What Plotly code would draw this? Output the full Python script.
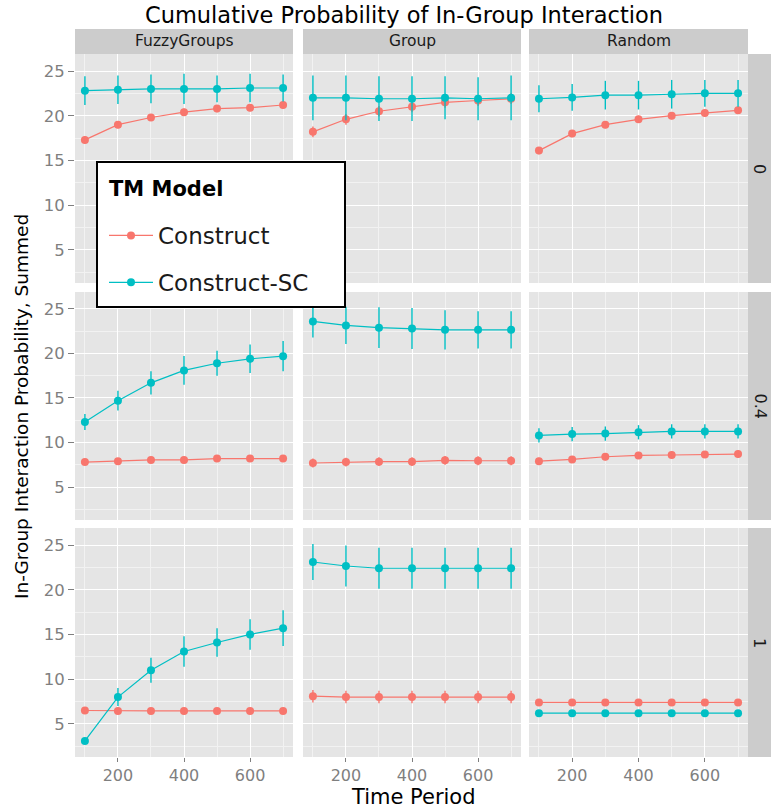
import plotly.graph_objects as go

# ---------------- data ----------------
TIME = [100, 200, 300, 400, 500, 600, 700]
COL_FACETS = ["FuzzyGroups", "Group", "Random"]
ROW_FACETS = ["0", "0.4", "1"]
SERIES = ["Construct", "Construct-SC"]
X_TICKS = [200, 400, 600]
Y_TICKS = [5, 10, 15, 20, 25]

# row facet "0"
fuzzy_0_construct = [17.3, 19.0, 19.8, 20.4, 20.8, 20.9, 21.2]
fuzzy_0_construct_err = [0.4, 0.4, 0.4, 0.4, 0.4, 0.4, 0.4]
fuzzy_0_sc = [22.8, 22.9, 23.0, 23.0, 23.0, 23.1, 23.1]
fuzzy_0_sc_err = [1.6, 1.6, 1.6, 1.7, 1.5, 1.6, 1.5]
group_0_construct = [18.2, 19.6, 20.5, 21.0, 21.5, 21.7, 21.9]
group_0_construct_err = [0.6, 0.6, 0.6, 0.6, 0.6, 0.6, 0.6]
group_0_sc = [22.0, 22.0, 21.9, 21.9, 22.0, 21.9, 22.0]
group_0_sc_err = [2.5, 2.5, 2.5, 2.5, 2.4, 2.4, 2.5]
random_0_construct = [16.1, 18.0, 19.0, 19.6, 20.0, 20.3, 20.6]
random_0_construct_err = [0.4, 0.4, 0.4, 0.4, 0.4, 0.4, 0.4]
random_0_sc = [21.9, 22.05, 22.3, 22.3, 22.4, 22.5, 22.5]
random_0_sc_err = [1.5, 1.5, 1.6, 1.6, 1.6, 1.5, 1.5]

# row facet "0.4"
fuzzy_04_construct = [7.8, 7.9, 8.05, 8.05, 8.2, 8.2, 8.2]
fuzzy_04_construct_err = [0.3, 0.3, 0.3, 0.3, 0.3, 0.3, 0.3]
fuzzy_04_sc = [12.3, 14.7, 16.7, 18.1, 18.9, 19.4, 19.7]
fuzzy_04_sc_err = [0.9, 1.1, 1.3, 1.6, 1.4, 1.6, 1.7]
group_04_construct = [7.7, 7.8, 7.85, 7.85, 8.0, 7.95, 7.95]
group_04_construct_err = [0.5, 0.5, 0.5, 0.5, 0.5, 0.5, 0.5]
group_04_sc = [23.6, 23.15, 22.9, 22.8, 22.65, 22.65, 22.65]
group_04_sc_err = [1.8, 2.1, 2.3, 2.3, 2.2, 2.1, 2.1]
random_04_construct = [7.9, 8.1, 8.4, 8.55, 8.6, 8.65, 8.7]
random_04_construct_err = [0.4, 0.4, 0.4, 0.4, 0.4, 0.4, 0.4]
random_04_sc = [10.8, 10.95, 11.0, 11.15, 11.25, 11.25, 11.25]
random_04_sc_err = [0.8, 0.8, 0.8, 0.8, 0.8, 0.8, 0.8]

# row facet "1"
fuzzy_1_construct = [6.5, 6.45, 6.45, 6.45, 6.45, 6.45, 6.45]
fuzzy_1_construct_err = [0.2, 0.2, 0.2, 0.2, 0.2, 0.2, 0.2]
fuzzy_1_sc = [3.1, 8.0, 11.0, 13.1, 14.1, 15.0, 15.7]
fuzzy_1_sc_err = [0.3, 1.0, 1.4, 1.7, 1.6, 1.7, 2.0]
group_1_construct = [8.1, 8.0, 8.0, 8.0, 8.0, 8.0, 8.0]
group_1_construct_err = [0.7, 0.7, 0.7, 0.7, 0.7, 0.7, 0.7]
group_1_sc = [23.1, 22.65, 22.4, 22.4, 22.4, 22.4, 22.4]
group_1_sc_err = [2.0, 2.3, 2.3, 2.3, 2.3, 2.3, 2.3]
random_1_construct = [7.4, 7.4, 7.4, 7.4, 7.4, 7.4, 7.4]
random_1_construct_err = [0.2, 0.2, 0.2, 0.2, 0.2, 0.2, 0.2]
random_1_sc = [6.2, 6.2, 6.2, 6.2, 6.2, 6.2, 6.2]
random_1_sc_err = [0.2, 0.2, 0.2, 0.2, 0.2, 0.2, 0.2]

PANELS = [
    [(fuzzy_0_construct, fuzzy_0_construct_err, fuzzy_0_sc, fuzzy_0_sc_err),
     (group_0_construct, group_0_construct_err, group_0_sc, group_0_sc_err),
     (random_0_construct, random_0_construct_err, random_0_sc, random_0_sc_err)],
    [(fuzzy_04_construct, fuzzy_04_construct_err, fuzzy_04_sc, fuzzy_04_sc_err),
     (group_04_construct, group_04_construct_err, group_04_sc, group_04_sc_err),
     (random_04_construct, random_04_construct_err, random_04_sc, random_04_sc_err)],
    [(fuzzy_1_construct, fuzzy_1_construct_err, fuzzy_1_sc, fuzzy_1_sc_err),
     (group_1_construct, group_1_construct_err, group_1_sc, group_1_sc_err),
     (random_1_construct, random_1_construct_err, random_1_sc, random_1_sc_err)],
]

COLORS = {"Construct": "#F8766D", "Construct-SC": "#00BFC4"}

# ---------------- layout geometry (window pixels) ----------------
W, H = 771, 809
OFF = 0  # body margin is removed by the post script below
COL_PX = [(75, 293), (303, 521), (529, 748)]
ROW_PX = [(54, 283), (292, 520), (528, 757)]
STRIP_TOP = (29, 54)
STRIP_RIGHT = (748, 771)
FONT = "DejaVu Sans"


def px(x):
    return (x - OFF) / W


def py(y):
    return 1 - (y - OFF) / H


fig = go.Figure()
layout = dict(
    width=W, height=H,
    margin=dict(l=0, r=0, t=0, b=0),
    paper_bgcolor="white",
    plot_bgcolor="#E5E5E5",
    font=dict(family=FONT, color="#7F7F7F"),
    showlegend=True,
)

shapes = []
annotations = []

for r in range(3):
    for c in range(3):
        idx = r * 3 + c + 1
        sfx = "" if idx == 1 else str(idx)
        xa, ya = "x" + sfx, "y" + sfx
        cons, cons_err, sc, sc_err = PANELS[r][c]
        for name, vals, errs in (("Construct", cons, cons_err), ("Construct-SC", sc, sc_err)):
            fig.add_trace(go.Scatter(
                x=TIME, y=vals, mode="lines+markers", name=name,
                legendgroup=name, showlegend=(idx == 1),
                line=dict(color=COLORS[name], width=1.2),
                marker=dict(color=COLORS[name], size=8),
                error_y=dict(type="data", array=errs, visible=True,
                             color=COLORS[name], thickness=1.4, width=0),
                xaxis=xa, yaxis=ya,
            ))
        x0, x1 = COL_PX[c]
        y0, y1 = ROW_PX[r]
        layout["xaxis" + sfx] = dict(
            domain=[px(x0), px(x1)], range=[70, 730], anchor=ya,
            tickmode="array", tickvals=X_TICKS,
            showticklabels=(r == 2), ticks="outside" if r == 2 else "",
            ticklen=4, tickcolor="#7F7F7F", tickwidth=1,
            tickfont=dict(size=16, color="#7F7F7F", family=FONT),
            showgrid=True, gridcolor="white", gridwidth=1.3,
            minor=dict(tickvals=[100, 300, 500, 700], showgrid=True,
                       gridcolor="#F2F2F2", gridwidth=0.7, ticks=""),
            zeroline=False, showline=False, fixedrange=True,
        )
        layout["yaxis" + sfx] = dict(
            domain=[py(y1), py(y0)], range=[1.3, 26.9], anchor=xa,
            tickmode="array", tickvals=Y_TICKS,
            showticklabels=(c == 0), ticks="outside" if c == 0 else "",
            ticklen=6, tickcolor="#7F7F7F", tickwidth=1,
            tickfont=dict(size=16.5, color="#7F7F7F", family=FONT),
            showgrid=True, gridcolor="white", gridwidth=1.3,
            minor=dict(tickvals=[2.5, 7.5, 12.5, 17.5, 22.5], showgrid=True,
                       gridcolor="#F2F2F2", gridwidth=0.7, ticks=""),
            zeroline=False, showline=False, fixedrange=True,
        )

# top strips
for c, lab in enumerate(COL_FACETS):
    x0, x1 = COL_PX[c]
    shapes.append(dict(type="rect", xref="paper", yref="paper",
                       x0=px(x0), x1=px(x1), y0=py(STRIP_TOP[1]), y1=py(STRIP_TOP[0]),
                       fillcolor="#CCCCCC", line=dict(width=0), layer="below"))
    annotations.append(dict(text=lab, xref="paper", yref="paper",
                            x=px((x0 + x1) / 2), y=py((STRIP_TOP[0] + STRIP_TOP[1]) / 2),
                            showarrow=False, xanchor="center", yanchor="middle",
                            font=dict(size=15.5, color="#1A1A1A", family=FONT)))
# right strips
for r, lab in enumerate(ROW_FACETS):
    y0, y1 = ROW_PX[r]
    shapes.append(dict(type="rect", xref="paper", yref="paper",
                       x0=px(STRIP_RIGHT[0]), x1=px(STRIP_RIGHT[1]), y0=py(y1), y1=py(y0),
                       fillcolor="#CCCCCC", line=dict(width=0), layer="below"))
    annotations.append(dict(text=lab, xref="paper", yref="paper",
                            x=px((STRIP_RIGHT[0] + STRIP_RIGHT[1]) / 2), y=py((y0 + y1) / 2),
                            showarrow=False, xanchor="center", yanchor="middle", textangle=90,
                            font=dict(size=16, color="#1A1A1A", family=FONT)))

# legend box and title
shapes.append(dict(type="rect", xref="paper", yref="paper",
                   x0=px(97), x1=px(345), y0=py(307), y1=py(162),
                   fillcolor="white", line=dict(color="black", width=2), layer="above"))
annotations.append(dict(text="<b>TM Model</b>", xref="paper", yref="paper",
                        x=px(107), y=py(189), showarrow=False,
                        xanchor="left", yanchor="middle",
                        font=dict(size=21, color="black", family=FONT)))

# axis titles
annotations.append(dict(text="Time Period", xref="paper", yref="paper",
                        x=px(413), y=py(796.5), showarrow=False,
                        xanchor="center", yanchor="middle",
                        font=dict(size=21, color="black", family=FONT)))
annotations.append(dict(text="In-Group Interaction Probability, Summed", xref="paper", yref="paper",
                        x=px(21), y=py(407), showarrow=False, textangle=-90,
                        xanchor="center", yanchor="middle",
                        font=dict(size=18.5, color="black", family=FONT)))

layout["title"] = dict(text="Cumulative Probability of In-Group Interaction",
                       x=px(404), y=py(15), xanchor="center", yanchor="middle",
                       xref="paper", yref="paper",
                       font=dict(size=22.5, color="black", family=FONT))
layout["legend"] = dict(
    x=px(104), y=py(214), xanchor="left", yanchor="top",
    bgcolor="rgba(0,0,0,0)", borderwidth=0,
    font=dict(size=23, color="#1A1A1A", family=FONT),
    tracegroupgap=14, itemwidth=44,
)
layout["shapes"] = shapes
layout["annotations"] = annotations
fig.update_layout(**layout)

fig.write_html("out.html", config={"displayModeBar": False},
               post_script="document.body.style.margin='0px';")
